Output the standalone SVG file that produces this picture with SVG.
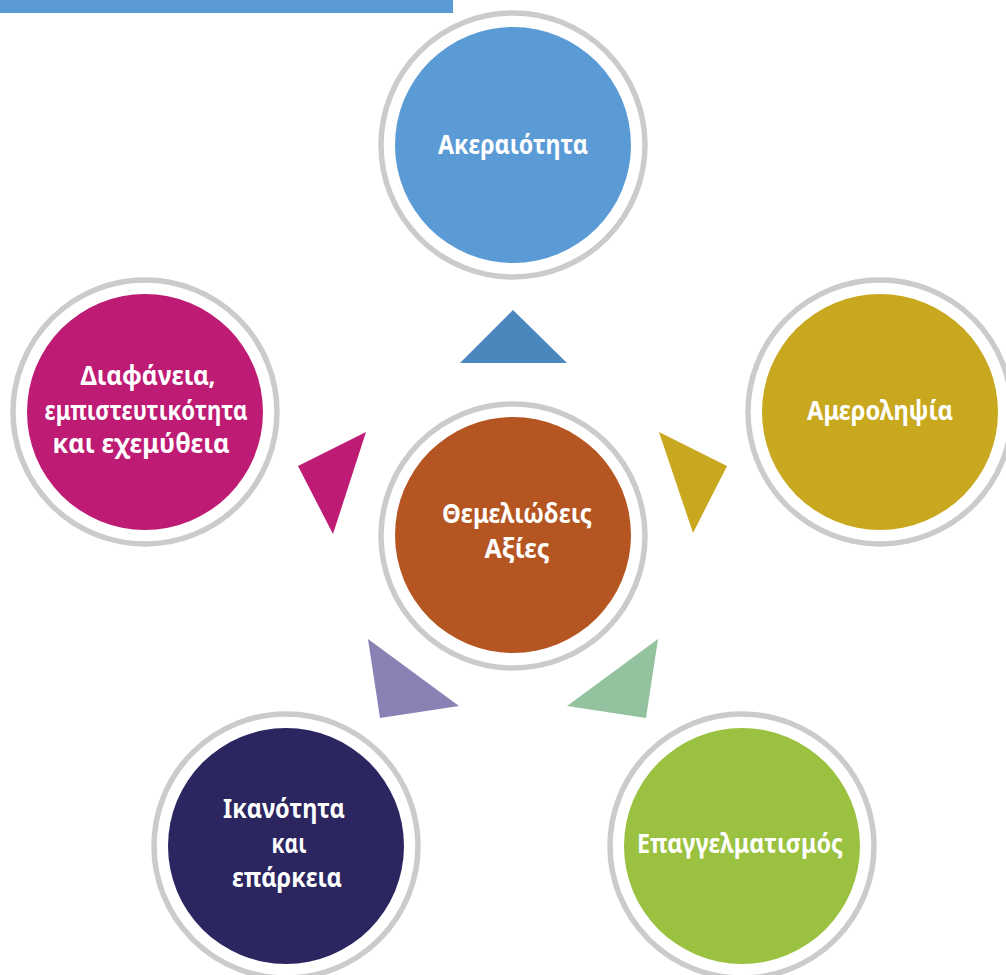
<svg xmlns="http://www.w3.org/2000/svg" width="1006" height="975" viewBox="0 0 1006 975">
  <style>
    .ring { fill: none; stroke: #cacbcd; stroke-width: 5.5; }
    .label { fill: #ffffff; font-family: "Noto Sans", "DejaVu Sans", sans-serif; font-weight: bold; font-size: 26px; text-anchor: middle; }
  </style>

  <!-- header strip -->
  <rect x="0" y="0" width="453" height="13" fill="#5b9bd5"/>

  <!-- pointers between the centre and each value -->
  <g id="connectors">
    <polygon points="513,310 460,363 567,363" fill="#4a87bd"/>
    <polygon points="659,432 727,466 693,533" fill="#c8a81e"/>
    <polygon points="658,639 567,706 646,718" fill="#93c39e"/>
    <polygon points="368,639 459,706 380,718" fill="#8a82b5"/>
    <polygon points="366,432 298,466 333,534" fill="#bd1b74"/>
  </g>

  <g id="node-centre">
    <circle class="ring" cx="513" cy="536" r="132"/>
    <circle cx="513" cy="535" r="118" fill="#b55522"/>
    <text class="label" x="517" y="523" textLength="150" lengthAdjust="spacingAndGlyphs">Θεμελιώδεις</text>
    <text class="label" x="517" y="558" textLength="65" lengthAdjust="spacingAndGlyphs">Αξίες</text>
  </g>

  <g id="node-akeraiotita">
    <circle class="ring" cx="513" cy="145" r="132"/>
    <circle cx="513" cy="145" r="118" fill="#5b9bd5"/>
    <text class="label" x="513" y="154" textLength="150" lengthAdjust="spacingAndGlyphs">Ακεραιότητα</text>
  </g>

  <g id="node-amerolipsia">
    <circle class="ring" cx="880" cy="412" r="132"/>
    <circle cx="880" cy="412" r="118" fill="#c8a81e"/>
    <text class="label" x="880" y="420" textLength="146" lengthAdjust="spacingAndGlyphs">Αμεροληψία</text>
  </g>

  <g id="node-epaggelmatismos">
    <circle class="ring" cx="742" cy="846" r="132"/>
    <circle cx="742" cy="846" r="118" fill="#9ac240"/>
    <text class="label" x="740" y="853" textLength="206" lengthAdjust="spacingAndGlyphs">Επαγγελματισμός</text>
  </g>

  <g id="node-ikanotita">
    <circle class="ring" cx="286" cy="846" r="132"/>
    <circle cx="286" cy="846" r="118" fill="#2b2660"/>
    <text class="label" x="284" y="818" textLength="122" lengthAdjust="spacingAndGlyphs">Ικανότητα</text>
    <text class="label" x="289" y="853" textLength="35" lengthAdjust="spacingAndGlyphs">και</text>
    <text class="label" x="287" y="887" textLength="110" lengthAdjust="spacingAndGlyphs">επάρκεια</text>
  </g>

  <g id="node-diafaneia">
    <circle class="ring" cx="145" cy="412" r="132"/>
    <circle cx="145" cy="412" r="118" fill="#bd1b74"/>
    <text class="label" x="148" y="385" textLength="135" lengthAdjust="spacingAndGlyphs">Διαφάνεια,</text>
    <text class="label" x="146" y="420" textLength="203" lengthAdjust="spacingAndGlyphs">εμπιστευτικότητα</text>
    <text class="label" x="141" y="453" textLength="177" lengthAdjust="spacingAndGlyphs">και εχεμύθεια</text>
  </g>
</svg>
